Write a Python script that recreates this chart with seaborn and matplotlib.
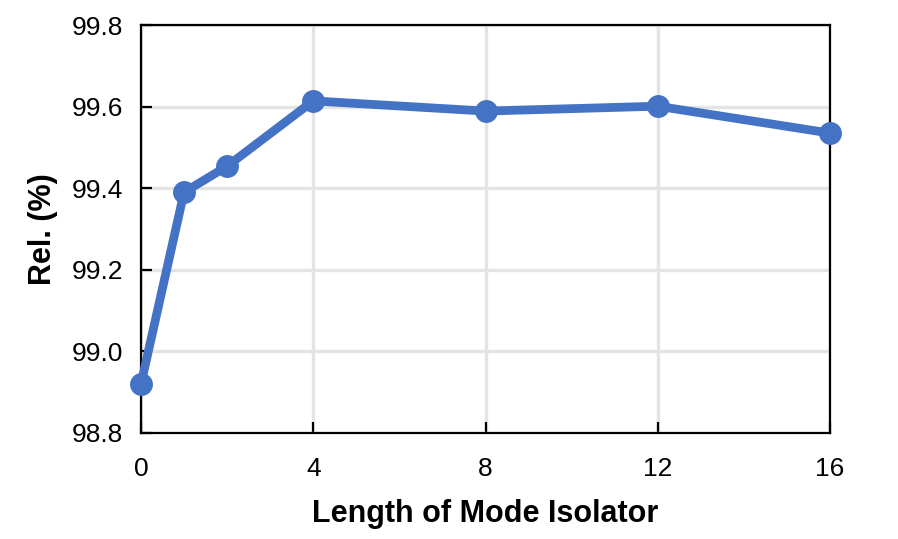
import matplotlib
matplotlib.use("Agg")
import matplotlib.pyplot as plt
import seaborn as sns
import pandas as pd

lengths = [0, 1, 2, 4, 8, 12, 16]
rel = [98.92, 99.39, 99.454, 99.614, 99.589, 99.601, 99.535]
xticks = [0, 4, 8, 12, 16]
yticks = [98.8, 99.0, 99.2, 99.4, 99.6, 99.8]

sns.set_style("white")
plt.rcParams['font.family'] = ['Liberation Sans', 'DejaVu Sans']

df = pd.DataFrame({"Length": lengths, "Rel": rel})

fig = plt.figure(figsize=(8.98, 5.39), dpi=100)
ax = fig.add_axes([0.157, 0.1967, 0.7673, 0.7569])

sns.lineplot(data=df, x="Length", y="Rel", ax=ax, color="#4472C4",
             linewidth=6.3, marker="o", markersize=16.5, markeredgewidth=0,
             clip_on=False, zorder=5)

ax.set_xlim(0, 16)
ax.set_ylim(98.8, 99.8)
ax.set_xticks(xticks)
ax.set_yticks(yticks)
ax.set_xticklabels([str(t) for t in xticks])
ax.set_yticklabels([f"{t:.1f}" for t in yticks])
ax.grid(True, color="#e4e4e4", linewidth=2.4)
ax.set_axisbelow(True)
for s in ax.spines.values():
    s.set_color("black")
    s.set_linewidth(1.6)
    s.set_visible(True)
ax.tick_params(axis="both", direction="in", length=8, width=1.6, labelsize=19,
               colors="black", labelcolor="black", left=True, bottom=True)
ax.tick_params(axis="y", pad=13)
ax.tick_params(axis="x", pad=17)
ax.set_xlabel("Length of Mode Isolator", fontsize=22, fontweight="bold",
              labelpad=13, color="black")
ax.set_ylabel("Rel. (%)", fontsize=22, fontweight="bold", labelpad=10, color="black")

fig.savefig("out.png", dpi=100)
